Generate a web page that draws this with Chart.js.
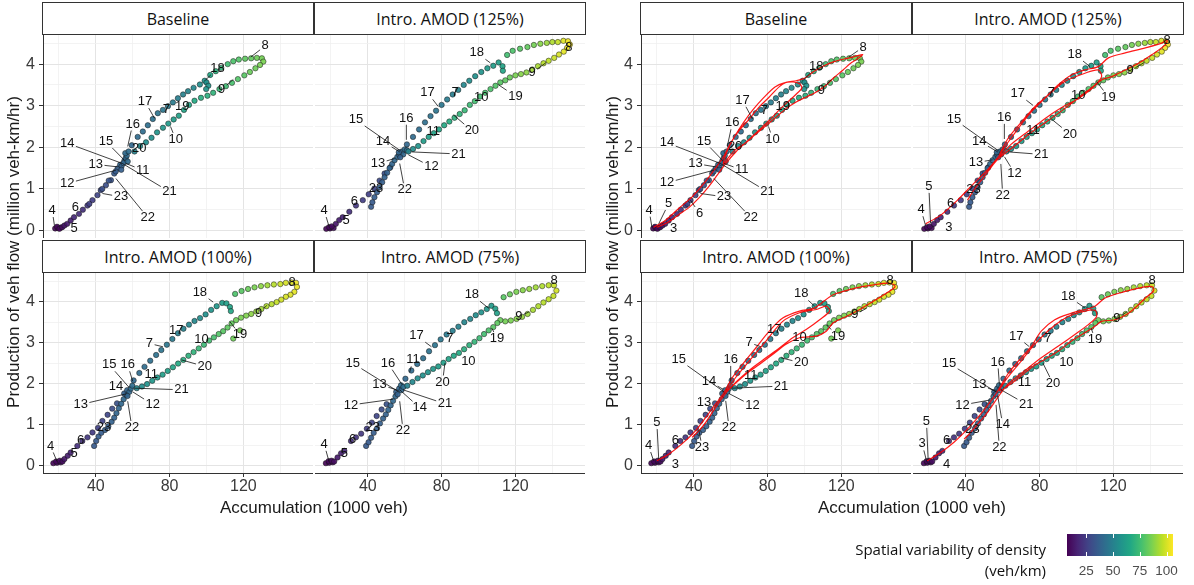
<!DOCTYPE html>
<html>
<head>
<meta charset="utf-8">
<script src="https://cdn.jsdelivr.net/npm/chart.js@4.4.1/dist/chart.umd.min.js"></script>
<style>
  body { margin: 0; width: 1194px; height: 585px; background: #fff; position: relative; overflow: hidden;
         font-family: "Liberation Sans", Arial, sans-serif; color: #1a1a1a; }
  .strip { position: absolute; box-sizing: border-box; border: 1px solid #333; background: #fff;
           font-family: "Open Sans", sans-serif; font-size: 16px; color: #111;
           display: flex; align-items: center; justify-content: center; }
  .ytitle { position: absolute; width: 420px; height: 20px; line-height: 20px; text-align: center;
            font-size: 17px; transform: rotate(-90deg); }
  .xtitle { position: absolute; width: 300px; height: 20px; line-height: 20px; text-align: center; font-size: 17px; }
  .legtitle { position: absolute; right: 148px; font-family: "Open Sans", sans-serif; font-size: 15px;
              line-height: 20px; text-align: right; color: #111; }
  .cbar { position: absolute; left: 1067px; top: 534px; width: 106px; height: 22px; }
  .cbtick { position: absolute; width: 1px; height: 4px; background: #fff; }
  .cblab { position: absolute; width: 40px; margin-left: -20px; text-align: center; font-size: 13.5px;
           color: #4d4d4d; line-height: 16px; }
</style>
</head>
<body>
<script>
// ---- axes ----
const xRange = [11.4, 157.7];
const yRange = [-0.18, 4.7];
const xGrid = [20, 40, 60, 80, 100, 120, 140];
const xLabelled = [40, 80, 120];
const yGrid = [0, 0.5, 1, 1.5, 2, 2.5, 3, 3.5, 4, 4.5];
const yLabelled = [0, 1, 2, 3, 4];
const svLimits = [7, 106];
const svTicks = [25, 50, 75, 100];

// ---- observed points: [accumulation (1000 veh), production (million veh-km/hr), spatial variability] ----
const baselinePts = [
  [18.0,0.05,8],[19.5,0.06,9],[21.0,0.07,10],[19.0,0.09,9],[20.3,0.04,9],[21.8,0.08,11],
  [23.0,0.12,13],[24.5,0.16,14],[26.4,0.24,16],[28.2,0.32,18],
  [30.9,0.4,20],[33.0,0.5,21],[35.5,0.6,23],[38.2,0.73,25],[40.9,0.85,27],[42.7,0.97,29],[45.5,1.09,31],[48.2,1.21,33],
  [50.0,1.37,35],[51.8,1.49,37],[53.2,1.58,39],[36.5,0.64,26],[43.5,1.0,31],[47.0,1.2,33],[50.8,1.42,36],
  [54.0,1.55,38],[55.5,1.68,40],[56.2,1.74,40],[55.0,1.62,39],[56.8,1.8,41],[57.3,1.66,41],[53.8,1.46,37],[56.0,1.86,41],
  [57.8,1.9,42],
  [59.5,2.05,40],[62.7,2.25,41],[65.5,2.38,42],[68.2,2.53,43],[70.9,2.68,44],[73.6,2.82,45],[76.4,2.9,46],[79.1,2.99,47],
  [81.8,3.08,48],[84.5,3.18,49],[87.3,3.27,50],[90.0,3.35,52],[93.0,3.43,53],[96.4,3.51,55],[99.0,3.6,57],
  [100.0,3.56,56],[101.0,3.48,57],[99.8,3.4,58],
  [102.0,3.74,66],[105.0,3.83,70],[108.0,3.91,72],[111.5,4.0,75],[114.5,4.07,78],[117.5,4.11,79],[120.9,4.13,81],
  [124.2,4.14,82],[127.3,4.15,84],[130.0,4.14,85],[130.8,4.06,86],
  [129.0,3.98,86],[126.5,3.9,84],[123.5,3.81,83],[120.5,3.73,80],[117.0,3.64,79],[113.8,3.55,77],[110.5,3.47,75],
  [107.0,3.4,73],[103.6,3.31,71],[100.5,3.24,69],[97.0,3.19,68],[93.5,3.12,67],[90.5,3.02,65],[87.8,2.9,64],[85.0,2.76,63],
  [82.2,2.67,61],[79.3,2.57,60],[76.4,2.47,59],[73.2,2.36,58],[70.2,2.23,56],[67.2,2.12,55],[64.0,2.03,54],[61.0,1.9,51]
];

const amod125Pts = [
  [17.5,0.04,8],[19.5,0.05,9],[21.5,0.06,10],[19.0,0.08,9],[20.5,0.1,10],
  [22.7,0.16,13],[24.5,0.25,15],[26.4,0.32,17],
  [30.0,0.45,21],[33.6,0.6,23],[37.3,0.73,25],[40.5,0.87,26],[43.6,1.01,27],[46.4,1.2,29],[49.1,1.37,31],[52.2,1.52,33],
  [41.8,0.57,35],[42.5,0.68,35],[43.6,0.8,36],[45.0,0.92,36],[46.4,1.04,37],[47.8,1.16,37],[49.1,1.28,38],[50.5,1.39,38],
  [51.8,1.5,39],[53.2,1.6,39],[54.5,1.69,40],[56.0,1.77,40],
  [57.0,1.82,39],[58.5,1.9,40],[59.2,1.83,40],[56.8,1.88,39],[60.0,1.95,41],[61.2,1.93,42],[57.6,1.76,38],
  [61.2,2.07,40],[64.5,2.25,41],[67.8,2.43,42],[71.0,2.6,43],[74.0,2.75,44],[77.0,2.88,45],[80.0,3.02,46],[83.0,3.15,48],
  [86.0,3.27,49],[89.0,3.38,51],[92.0,3.5,53],[95.0,3.6,55],[98.2,3.71,56],[101.5,3.81,58],[104.8,3.9,60],[108.0,3.96,61],
  [110.9,4.04,62],[113.0,3.95,64],[113.2,3.84,65],
  [115.5,4.22,76],[118.5,4.32,78],[122.5,4.37,80],[126.5,4.41,82],[130.0,4.46,85],[133.5,4.49,88],[137.0,4.51,91],
  [140.0,4.53,94],[143.0,4.53,97],[146.0,4.56,101],[148.5,4.55,104],[149.5,4.47,105],
  [148.0,4.39,104],[146.2,4.3,102],[143.6,4.23,100],[141.0,4.15,98],[138.0,4.08,96],[135.2,4.02,95],[132.2,3.95,93],
  [129.1,3.87,92],[126.0,3.8,89],[123.0,3.76,88],[120.0,3.73,86],[117.0,3.68,83],[114.5,3.61,81],[111.8,3.56,80],
  [109.2,3.48,79],[106.5,3.4,78],[103.6,3.31,77],[100.8,3.22,76],[98.0,3.11,76],[95.3,3.02,74],[92.5,2.89,73],[89.8,2.8,71],
  [87.0,2.71,70],[84.2,2.62,68],[81.4,2.53,67],[78.6,2.43,65],[75.8,2.34,64],[73.0,2.25,62],[70.2,2.15,61],[67.3,2.03,58],
  [64.5,1.96,55],[62.0,1.9,52]
];

const amod100Pts = [
  [17.0,0.06,8],[19.0,0.07,9],[21.0,0.08,10],[18.5,0.1,9],[20.5,0.12,10],[22.0,0.1,11],
  [23.0,0.16,13],[24.8,0.24,15],[26.4,0.32,17],
  [30.0,0.48,21],[32.7,0.6,22],[35.5,0.69,23],[38.2,0.81,24],[41.2,0.92,26],[43.6,1.09,27],[46.4,1.24,28],[48.9,1.39,30],
  [51.5,1.52,32],
  [39.1,0.48,35],[40.2,0.6,35],[41.5,0.71,36],[43.0,0.8,36],[45.0,0.87,37],[46.8,0.96,37],[48.6,1.07,38],[50.0,1.17,38],
  [51.2,1.28,39],[52.5,1.4,39],[53.8,1.51,40],[55.1,1.62,40],[56.4,1.73,41],
  [55.4,1.76,38],[57.0,1.84,39],[58.2,1.8,40],[59.0,1.88,41],[57.2,1.7,39],[59.8,1.95,42],
  [60.5,2.08,40],[63.6,2.26,41],[66.4,2.41,42],[69.5,2.56,43],[72.7,2.7,44],[75.5,2.82,45],[78.5,2.95,46],[81.5,3.09,47],
  [84.5,3.23,49],[87.5,3.34,50],[90.5,3.44,52],[93.5,3.53,53],[96.5,3.6,55],[99.5,3.69,56],[102.5,3.8,58],[105.5,3.89,59],
  [108.5,3.97,61],[110.8,3.96,62],[112.7,3.87,64],[113.2,3.77,65],
  [115.5,4.19,78],[119.0,4.26,80],[122.5,4.31,83],[126.0,4.35,86],[129.5,4.38,89],[133.0,4.4,92],[136.5,4.42,95],
  [140.0,4.43,98],[143.0,4.46,100],[146.0,4.47,101],[148.5,4.46,103],[149.0,4.36,103],
  [147.6,4.24,102],[145.5,4.17,101],[143.0,4.12,100],[140.5,4.05,99],[138.0,3.99,97],[135.3,3.94,95],[132.5,3.89,94],
  [129.7,3.82,92],[127.0,3.76,90],[124.2,3.7,89],[121.5,3.66,87],[118.7,3.61,86],[116.0,3.55,84],[113.6,3.47,82],
  [111.4,3.37,81],[109.0,3.28,80],[106.6,3.21,79],[104.0,3.13,77],[101.4,3.05,76],[98.6,2.95,74],[95.8,2.86,73],
  [93.0,2.77,71],[90.2,2.68,70],[87.4,2.58,68],[84.6,2.49,67],[81.8,2.4,65],[79.0,2.31,63],[76.2,2.22,62],[73.4,2.15,60],
  [70.6,2.07,59],[67.8,1.99,57],[65.0,1.93,55],[62.2,1.89,52],[114.5,3.1,84],[118.2,3.3,86]
];

const amod75Pts = [
  [17.3,0.06,8],[19.1,0.07,9],[21.0,0.08,10],[18.8,0.11,9],[20.4,0.12,10],[21.8,0.1,11],
  [23.6,0.2,14],[25.5,0.3,16],[27.3,0.36,18],
  [30.9,0.6,21],[33.6,0.69,22],[36.4,0.78,23],[39.5,0.9,25],[42.2,1.05,27],[44.8,1.21,28],[47.5,1.37,30],[50.2,1.5,32],
  [39.1,0.48,35],[40.4,0.57,35],[41.8,0.68,36],[43.2,0.8,36],[45.0,0.91,37],[46.6,1.03,37],[48.3,1.15,38],[49.8,1.25,38],
  [51.1,1.36,39],[52.4,1.47,39],[53.7,1.58,40],[55.0,1.69,40],
  [55.4,1.8,38],[57.0,1.88,39],[58.2,1.84,40],[56.2,1.74,38],[58.0,1.96,41],[59.3,1.92,42],
  [60.4,2.12,40],[63.6,2.32,41],[66.8,2.48,42],[70.0,2.62,43],[73.2,2.79,44],[76.4,2.94,45],[79.5,3.08,46],[82.7,3.2,47],
  [86.0,3.29,49],[89.1,3.39,50],[92.3,3.5,52],[95.5,3.58,53],[98.5,3.67,55],[101.5,3.74,57],[104.5,3.82,59],[107.0,3.9,60],
  [109.1,3.83,62],[110.0,3.72,63],
  [113.6,4.11,80],[117.0,4.18,83],[120.5,4.24,86],[124.0,4.28,88],[127.5,4.31,90],[131.0,4.35,92],[134.5,4.38,94],
  [138.0,4.4,96],[140.9,4.4,98],[142.2,4.27,99],
  [140.6,4.14,97],[138.0,4.06,96],[135.2,3.98,95],[132.4,3.89,94],[129.5,3.8,93],[126.6,3.7,91],[123.6,3.63,90],
  [120.6,3.58,88],[117.5,3.54,86],[114.5,3.52,85],[111.8,3.55,83],[110.2,3.48,81],[108.0,3.38,80],[105.5,3.3,78],
  [103.0,3.21,76],[100.5,3.11,74],[97.8,3.02,72],[95.0,2.94,70],[92.2,2.84,69],[89.4,2.75,67],[86.6,2.68,66],[83.8,2.6,64],
  [81.0,2.51,62],[78.2,2.42,61],[75.4,2.36,59],[72.6,2.28,58],[69.8,2.2,56],[67.0,2.13,55],[64.2,2.04,53],[61.4,1.95,50]
];

// ---- model trajectories (red lines, right group): [accumulation, production] ----
const redBaseline = [
  [18.2,0.08],[24.5,0.24],[31.8,0.53],[39.1,0.81],[46.4,1.18],[51.8,1.5],[56.4,1.79],[60.0,2.11],[64.5,2.4],[70.0,2.68],
  [75.5,2.97],[80.9,3.21],[86.4,3.46],[90.0,3.56],[95.5,3.6],[100.0,3.66],[105.0,3.82],[110.0,3.95],[116.0,4.06],
  [122.0,4.13],[127.0,4.18],[131.5,4.23],[128.5,4.12],[125.0,4.02],[120.9,3.86],[115.5,3.66],[111.8,3.5],[106.4,3.33],
  [100.9,3.21],[95.5,3.09],[90.0,2.93],[84.5,2.72],[79.1,2.52],[73.6,2.32],[68.2,2.11],[62.7,1.95],[58.2,1.72],[56.0,1.6],
  [58.5,1.95],[62.0,2.25],[67.0,2.6],[72.0,2.9],[78.0,3.2],[84.0,3.45],[89.0,3.55],[94.0,3.57],[97.5,3.52],[98.5,3.42],
  [96.0,3.3],[92.0,3.13],[87.0,2.93],[81.0,2.65],[75.0,2.4],[69.0,2.15],[63.0,1.9],[57.5,1.62],[53.0,1.35],[48.0,1.05],
  [42.7,0.78],[37.3,0.55],[31.8,0.38],[26.0,0.2],[20.0,0.08]
];
const red125 = [
  [18.2,0.16],[26.4,0.37],[35.5,0.73],[44.5,1.14],[51.8,1.46],[57.3,1.75],[62.7,2.11],[68.2,2.44],[75.5,2.85],[82.7,3.17],
  [90.0,3.5],[97.3,3.74],[104.5,3.86],[111.8,3.94],[117.3,4.15],[126.4,4.27],[137.3,4.39],[146.4,4.51],[149.1,4.59],
  [148.2,4.47],[140.9,4.23],[133.6,4.02],[126.4,3.86],[119.1,3.7],[113.6,3.62],[108.2,3.41],[100.9,3.17],[93.6,3.0],
  [86.4,2.8],[79.1,2.56],[71.8,2.32],[64.5,2.07],[58.2,1.79],[62.7,2.2],[70.0,2.6],[77.3,2.97],[84.5,3.25],[93.6,3.58],
  [104.5,3.78],[111.8,3.86],[113.6,3.7],[110.0,3.5],[102.7,3.25],[93.6,2.93],[84.5,2.64],[75.5,2.36],[66.4,2.03],
  [57.3,1.71],[50.0,1.3],[44.5,0.98],[40.9,0.73]
];
const red100 = [
  [20.0,0.12],[26.4,0.28],[33.6,0.53],[40.9,0.85],[46.4,1.17],[51.8,1.5],[56.4,1.78],[60.9,2.15],[66.4,2.47],[73.6,2.87],
  [80.9,3.28],[88.2,3.6],[97.3,3.77],[104.5,3.83],[108.2,3.93],[115.5,4.17],[126.4,4.32],[137.3,4.41],[146.4,4.45],
  [149.1,4.37],[144.5,4.21],[137.3,4.01],[130.0,3.81],[122.7,3.64],[115.5,3.48],[111.8,3.28],[106.4,3.16],[97.3,3.12],
  [90.0,2.96],[82.7,2.71],[75.5,2.47],[68.2,2.23],[60.9,1.94],[57.3,1.78],[62.7,2.15],[70.0,2.55],[79.1,3.04],[88.2,3.52],
  [97.3,3.73],[106.4,3.81],[111.8,3.89],[113.6,3.77],[108.2,3.56],[100.9,3.32],[93.6,3.12],[86.4,2.87],[79.1,2.63],
  [71.8,2.39],[64.5,2.11],[58.2,1.82],[51.8,1.42],[46.4,1.05],[42.7,0.85],[39.1,0.69]
];
const red75 = [
  [19.1,0.12],[26.4,0.32],[33.6,0.57],[40.9,0.89],[48.2,1.26],[53.6,1.58],[57.3,1.82],[62.7,2.23],[70.0,2.63],[75.5,2.91],
  [80.9,3.28],[88.2,3.56],[97.3,3.72],[104.5,3.81],[110.0,3.89],[115.5,4.09],[126.4,4.25],[135.5,4.35],[140.9,4.37],
  [141.8,4.27],[137.3,4.09],[132.7,3.89],[128.2,3.72],[120.9,3.56],[113.6,3.52],[110.0,3.4],[104.5,3.24],[97.3,3.04],
  [90.0,2.79],[82.7,2.59],[75.5,2.39],[66.4,2.06],[58.2,1.82],[62.7,2.15],[70.0,2.55],[77.3,2.96],[86.4,3.36],[95.5,3.64],
  [104.5,3.77],[110.0,3.79],[110.9,3.64],[106.4,3.44],[99.1,3.2],[90.0,2.91],[80.9,2.63],[71.8,2.31],[62.7,1.98],
  [57.3,1.66],[51.8,1.3],[46.4,1.01],[41.8,0.77],[39.1,0.65]
];

// ---- hour labels: [hour, label x, label y, point x, point y] ----
const lblBaseL = [
  [4,16.4,0.48,17.6,0.12],[5,28.2,0.04,24.5,0.14],[6,29.0,0.56,31.5,0.45],[7,78.2,2.9,78.2,2.9],[8,131.8,4.44,124,4.17],
  [9,108.2,3.39,114.5,3.63],[10,83.3,2.19,80.5,2.5],[11,65.5,1.45,56.4,1.61],[12,24.5,1.13,50.9,1.45],[13,40.0,1.59,51.8,1.53],
  [14,24.5,2.1,54.5,1.61],[15,45.5,2.14,55.5,1.69],[16,60.0,2.56,57.3,2.02],[17,66.7,3.1,71.8,2.7],[18,106.0,3.9,99.5,3.62],
  [19,86.9,2.98,86.9,2.98],[20,63.6,1.98,63.6,1.98],[21,80.0,0.93,54.5,1.61],[22,68.2,0.31,50.9,1.25],[23,53.6,0.81,43.6,0.89]
];
const lbl125L = [
  [4,16.4,0.48,19,0.1],[5,28.2,0.24,26,0.26],[6,32.7,0.69,33,0.62],[7,87.3,3.31,87.3,3.31],[8,149.0,4.4,148.5,4.42],
  [9,129.0,3.79,136.4,4.03],[10,101.5,3.21,101,3.21],[11,75.5,2.38,75,2.36],[12,74.5,1.53,62,1.82],[13,45.5,1.61,54.5,1.73],
  [14,48.2,2.14,57.3,1.89],[15,33.6,2.66,57.3,1.93],[16,60.9,2.7,60.9,2.18],[17,72.4,3.31,78.2,2.98],[18,99.0,4.27,106.4,4.03],
  [19,120.0,3.23,110.9,3.5],[20,96.4,2.4,86.4,2.78],[21,89.1,1.84,63.6,1.89],[22,60.0,0.98,57.3,1.61],[23,44.5,1.0,44.3,1.0]
];
const lbl100L = [
  [4,15.5,0.48,19,0.1],[5,28.2,0.3,26,0.3],[6,31.8,0.62,32,0.6],[7,69.1,2.98,76.4,2.9],[8,146.4,4.48,146.4,4.48],
  [9,128.2,3.71,132.7,3.91],[10,97.3,3.09,97.3,3.09],[11,70.0,2.22,70,2.22],[12,70.9,1.49,60,1.8],[13,31.8,1.49,56.4,1.75],
  [14,50.9,1.94,56.4,1.89],[15,47.3,2.46,58.2,1.9],[16,57.3,2.46,60,2.06],[17,83.6,3.31,83.6,3.31],[18,96.4,4.23,103.6,3.99],
  [19,118.2,3.19,112.7,3.51],[20,99.0,2.42,86.4,2.58],[21,86.4,1.85,60.9,1.89],[22,59.6,0.93,57.3,1.57],[23,44.5,0.93,44.3,0.95]
];
const lbl75L = [
  [4,16.4,0.52,19,0.1],[5,27.3,0.3,26,0.3],[6,31.8,0.65,32,0.63],[7,84.5,3.1,84.5,3.1],[8,141.0,4.52,140.9,4.45],
  [9,121.8,3.63,127.3,3.75],[10,94.5,2.54,94.5,2.6],[11,64.5,2.58,62.7,2.28],[12,30.9,1.48,53.6,1.62],[13,46.4,1.98,55.5,1.85],
  [14,68.2,1.41,57.3,1.85],[15,31.8,2.5,56.4,1.81],[16,50.9,2.5,58.5,1.98],[17,66.4,3.17,74.5,2.9],[18,96.4,4.17,105.5,3.84],
  [19,110.0,3.1,107.3,3.35],[20,80.5,2.04,81.8,2.5],[21,81.8,1.51,59.1,1.85],[22,59.1,0.86,57.3,1.57],[23,42.7,0.93,42.7,0.95]
];
const lblBaseR = [
  [3,29.1,0.04,29.1,0.04],[4,15.8,0.49,17.3,0.08],[5,26.4,0.65,21.0,0.16],[6,43.1,0.41,38.2,0.73],[7,78.2,2.89,78.2,2.89],
  [8,131.8,4.41,124,4.17],[9,109.1,3.37,114.5,3.63],[10,82.7,2.2,80.5,2.5],[11,66.0,1.46,56.4,1.61],[12,25.5,1.15,50.9,1.45],
  [13,40.9,1.61,51.8,1.53],[14,25.5,2.11,54.5,1.61],[15,45.5,2.15,55.5,1.69],[16,60.9,2.59,58.2,2.03],[17,66.4,3.13,71.8,2.68],
  [18,106.4,3.94,100,3.64],[19,88.2,2.99,88.2,2.99],[20,62.4,2.02,62.4,2.02],[21,80.0,0.93,54.5,1.61],[22,70.9,0.31,50.9,1.25],
  [23,56.4,0.81,43.6,0.89]
];
const lbl125R = [
  [3,30.9,0.08,30.9,0.08],[4,15.8,0.5,18.2,0.12],[5,20.0,1.06,20.9,0.18],[6,31.8,0.65,31.8,0.65],[7,86.4,3.33,86.4,3.33],
  [8,149.1,4.57,149.1,4.57],[9,129.1,3.84,136.4,4.03],[10,100.9,3.24,100.9,3.24],[11,76.4,2.4,76.4,2.4],[12,66.4,1.38,61,1.77],
  [13,45.5,1.63,54.5,1.7],[14,47.3,2.15,57.3,1.89],[15,33.6,2.68,57.3,1.93],[16,60.9,2.72,60.9,2.2],[17,68.2,3.29,76.4,3.01],
  [18,99.1,4.23,107.3,3.94],[19,117.3,3.21,110.9,3.58],[20,96.4,2.32,86.4,2.68],[21,80.9,1.83,63,1.89],[22,60.0,0.85,59,1.6],
  [23,44.2,0.99,44.2,0.99]
];
const lbl100R = [
  [3,30.0,0.04,30,0.04],[4,15.5,0.49,18.2,0.12],[5,20.0,1.05,21,0.16],[6,30.0,0.61,30,0.61],[7,70.0,3.0,76.4,2.9],
  [8,146.4,4.51,146.4,4.51],[9,127.3,3.68,133.6,3.84],[10,97.3,3.12,97.3,3.12],[11,70.9,2.19,70.9,2.19],[12,71.8,1.46,59,1.76],
  [13,45.5,1.54,52,1.52],[14,48.2,2.06,56,1.86],[15,31.8,2.59,56.4,1.8],[16,60.0,2.59,60,2.05],[17,83.6,3.32,83.6,3.32],
  [18,98.2,4.19,105.5,3.89],[19,118.2,3.16,111.8,3.44],[20,98.2,2.51,87.3,2.63],[21,87.3,1.94,60.9,1.89],[22,59.1,0.93,57.3,1.58],
  [23,44.5,0.45,42.7,0.88]
];
const lbl75R = [
  [3,16.4,0.53,18.8,0.1],[4,29.6,0.04,29.6,0.04],[5,18.7,1.08,19.6,0.15],[6,29.6,0.61,29.6,0.61],[7,84.5,3.1,84.5,3.1],
  [8,140.9,4.53,140.9,4.53],[9,121.8,3.59,127.3,3.75],[10,94.5,2.53,94.5,2.53],[11,71.8,2.02,71.8,2.02],[12,38.2,1.48,53,1.6],
  [13,47.3,1.98,56,1.82],[14,60.0,1.0,57.3,1.7],[15,30.9,2.49,56.4,1.8],[16,57.3,2.53,58.2,1.98],[17,67.3,3.16,74.5,2.9],
  [18,95.5,4.13,104.5,3.85],[19,110.0,3.08,108,3.35],[20,87.3,2.0,81.8,2.5],[21,72.7,1.5,59.1,1.85],[22,58.2,0.45,56.4,1.48],
  [23,43.6,0.89,43.6,0.89]
];

const scenarios = [
  { title: 'Baseline', pts: baselinePts, red: redBaseline, lblL: lblBaseL, lblR: lblBaseR },
  { title: 'Intro. AMOD (125%)', pts: amod125Pts, red: red125, lblL: lbl125L, lblR: lbl125R },
  { title: 'Intro. AMOD (100%)', pts: amod100Pts, red: red100, lblL: lbl100L, lblR: lbl100R },
  { title: 'Intro. AMOD (75%)', pts: amod75Pts, red: red75, lblL: lbl75L, lblR: lbl75R },
];

// ---- layout ----
const GROUP_X = [43, 641];
const COL_DX = [0, 272];
const PANEL_W = 270;
const ROW_Y = [35, 273];
const ROW_H = [203, 200];
const STRIP_H = 33;
const Y_AXIS_W = 24;
const X_AXIS_H = 28;

const VIRIDIS = ['#440154','#482475','#414487','#355f8d','#2a788e','#21918c','#22a884','#44bf70','#7ad151','#bddf26','#fde725'];
const hexRgb = (h) => [1, 3, 5].map(i => parseInt(h.slice(i, i + 2), 16));

function viridis(v, alpha = 1) {
  let t = (v - svLimits[0]) / (svLimits[1] - svLimits[0]);
  t = Math.max(0, Math.min(1, t)) * 10;
  const i = Math.min(9, Math.floor(t)), f = t - i;
  const a = hexRgb(VIRIDIS[i]), b = hexRgb(VIRIDIS[i + 1]);
  const c = a.map((x, k) => Math.round(x + (b[k] - x) * f));
  return `rgba(${c[0]},${c[1]},${c[2]},${alpha})`;
}

function hourLabels(items) {
  return {
    id: 'hourLabels',
    afterDatasetsDraw(chart) {
      const { ctx, scales: { x, y } } = chart;
      ctx.save();
      ctx.font = '13px "Liberation Sans", Arial, sans-serif';
      ctx.textAlign = 'center';
      ctx.textBaseline = 'middle';
      ctx.strokeStyle = '#111';
      ctx.fillStyle = '#111';
      ctx.lineWidth = 0.8;
      items.forEach(([h, tx, ty, ax, ay]) => {
        const px = x.getPixelForValue(tx), py = y.getPixelForValue(ty);
        const qx = x.getPixelForValue(ax), qy = y.getPixelForValue(ay);
        const txt = String(h);
        const hw = ctx.measureText(txt).width / 2 + 1.5, hh = 6.5;
        const dx = qx - px, dy = qy - py;
        const s = Math.max(Math.abs(dx) / hw, Math.abs(dy) / hh);
        if (s > 1.5) {
          ctx.beginPath();
          ctx.moveTo(px + dx / s, py + dy / s);
          ctx.lineTo(qx, qy);
          ctx.stroke();
        }
        ctx.fillText(txt, px, py);
      });
      ctx.restore();
    }
  };
}

function axis(range, grid, labelled, shown, size, horizontal) {
  return {
    type: 'linear',
    min: range[0],
    max: range[1],
    afterBuildTicks: (s) => { s.ticks = grid.map(v => ({ value: v })); },
    afterFit: (s) => {
      if (horizontal) s.height = size; else s.width = size;
      s.paddingTop = 0; s.paddingBottom = 0; s.paddingLeft = 0; s.paddingRight = 0;
    },
    ticks: {
      display: shown,
      autoSkip: false,
      maxRotation: 0,
      padding: horizontal ? 0 : 4,
      color: '#3a3a3a',
      font: { family: '"Liberation Sans", Arial, sans-serif', size: 16 },
      callback: (v) => labelled.includes(v) ? String(v) : '',
    },
    grid: {
      drawTicks: shown,
      tickLength: 4,
      color: (c) => labelled.includes(c.tick && c.tick.value) ? '#e4e4e4' : '#f0f0f0',
      lineWidth: (c) => labelled.includes(c.tick && c.tick.value) ? 1 : 0.8,
      tickColor: (c) => labelled.includes(c.tick && c.tick.value) ? '#333' : 'rgba(0,0,0,0)',
      tickWidth: 1,
    },
    border: { display: shown, color: '#333', width: 1 },
  };
}

function buildPanel(s, g, row, col) {
  const x0 = GROUP_X[g] + COL_DX[col];
  const y0 = ROW_Y[row];

  const strip = document.createElement('div');
  strip.className = 'strip';
  strip.style.cssText = `left:${x0 - 1}px;top:${y0 - STRIP_H}px;width:${PANEL_W + 2}px;height:${STRIP_H}px`;
  strip.textContent = s.title;
  document.body.appendChild(strip);

  const left = col === 0, bottom = row === 1;
  const w = PANEL_W + (left ? Y_AXIS_W : 0);
  const h = ROW_H[row] + (bottom ? X_AXIS_H : 0);
  const cv = document.createElement('canvas');
  cv.width = w; cv.height = h;
  cv.style.cssText = `position:absolute;left:${x0 - (left ? Y_AXIS_W : 0)}px;top:${y0}px;width:${w}px;height:${h}px`;
  document.body.appendChild(cv);

  const colors = s.pts.map(p => viridis(p[2], 0.92));
  const datasets = [{
    type: 'scatter',
    data: s.pts.map(p => ({ x: p[0], y: p[1] })),
    backgroundColor: colors,
    pointBackgroundColor: colors,
    borderColor: 'rgba(20,20,20,0.7)',
    pointBorderColor: 'rgba(20,20,20,0.7)',
    borderWidth: 0.7,
    pointBorderWidth: 0.7,
    pointRadius: 2.7,
    order: 1,
  }];
  if (g === 1) {
    datasets.push({
      type: 'line',
      data: s.red.map(p => ({ x: p[0], y: p[1] })),
      borderColor: 'rgba(255,0,0,0.9)',
      borderWidth: 1.2,
      pointRadius: 0,
      fill: false,
      tension: 0.3,
      order: 0,
    });
  }

  new Chart(cv, {
    type: 'scatter',
    data: { datasets },
    options: {
      responsive: false,
      animation: false,
      devicePixelRatio: 1,
      layout: { padding: 0, autoPadding: false },
      plugins: { legend: { display: false }, tooltip: { enabled: false } },
      scales: {
        x: axis(xRange, xGrid, xLabelled, bottom, bottom ? X_AXIS_H : 0, true),
        y: axis(yRange, yGrid, yLabelled, left, left ? Y_AXIS_W : 0, false),
      },
    },
    plugins: [hourLabels(g === 0 ? s.lblL : s.lblR)],
  });
}

scenarios.forEach((s, i) => {
  const row = Math.floor(i / 2), col = i % 2;
  [0, 1].forEach(g => buildPanel(s, g, row, col));
});

// ---- axis titles ----
[14, 613].forEach(cx => {
  const d = document.createElement('div');
  d.className = 'ytitle';
  d.style.left = (cx - 210) + 'px';
  d.style.top = (252 - 10) + 'px';
  d.textContent = 'Production of veh flow (million veh-km/hr)';
  document.body.appendChild(d);
});
[314, 912].forEach(cx => {
  const d = document.createElement('div');
  d.className = 'xtitle';
  d.style.left = (cx - 150) + 'px';
  d.style.top = '498px';
  d.textContent = 'Accumulation (1000 veh)';
  document.body.appendChild(d);
});

// ---- colour legend ----
const t1 = document.createElement('div');
t1.className = 'legtitle'; t1.style.top = '539px'; t1.textContent = 'Spatial variability of density';
document.body.appendChild(t1);
const t2 = document.createElement('div');
t2.className = 'legtitle'; t2.style.top = '560px'; t2.textContent = '(veh/km)';
document.body.appendChild(t2);

const bar = document.createElement('div');
bar.className = 'cbar';
bar.style.background = `linear-gradient(to right, ${VIRIDIS.map((c, i) => `${c} ${i * 10}%`).join(', ')})`;
document.body.appendChild(bar);
svTicks.forEach(v => {
  const px = 1067 + (v - svLimits[0]) / (svLimits[1] - svLimits[0]) * 106;
  [534, 552].forEach(ty => {
    const tk = document.createElement('div');
    tk.className = 'cbtick';
    tk.style.left = Math.round(px) + 'px';
    tk.style.top = ty + 'px';
    document.body.appendChild(tk);
  });
  const lb = document.createElement('div');
  lb.className = 'cblab';
  lb.style.left = px + 'px';
  lb.style.top = '563px';
  lb.textContent = String(v);
  document.body.appendChild(lb);
});
</script>
</body>
</html>
